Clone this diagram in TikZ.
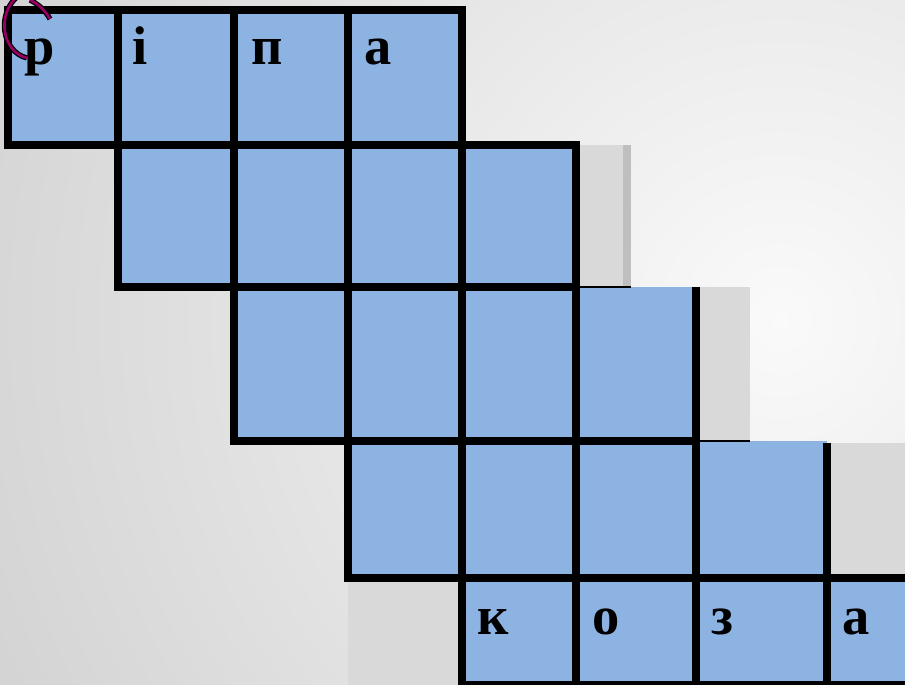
\documentclass[tikz,border=0pt]{standalone}
\usepackage{fontspec}
\setmainfont{Liberation Serif}

\definecolor{cellblue}{HTML}{8DB3E2}
\definecolor{shadegray}{HTML}{D9D9D9}
\definecolor{shadedark}{HTML}{BFBFBF}
\definecolor{markpink}{HTML}{990066}

\begin{document}
\begin{tikzpicture}[x=.02cm,y=-.02cm,every node/.style={font=\bfseries\fontsize{31}{37}\selectfont,inner sep=0pt,anchor=base west}]
\useasboundingbox (0,0) rectangle (905,685);
\begin{scope}
\clip (0,0) rectangle (905,685);
\shade[inner color=white!98!black,outer color=black!30] (780,320) circle (1600);
% grey cells beside the rows
\fill[shadegray] (576,145) rectangle (623,287);
\fill[shadedark] (623,145) rectangle (631,287);
\fill[shadegray] (696,287) rectangle (750,441);
\fill[shadegray] (827,443) rectangle (905,578);
\fill[shadegray] (348,578) rectangle (462,685);
% blue rows
\fill[cellblue] (8,10) rectangle (462,145);
\fill[cellblue] (118,145) rectangle (576,287);
\fill[cellblue] (234,287) rectangle (696,441);
\fill[cellblue] (348,441) rectangle (827,578);
\fill[cellblue] (462,578) rectangle (905,685);
% grid lines
\draw[line width=4.3pt,line cap=rect] (8,10) -- (462,10);
\draw[line width=4.3pt,line cap=rect] (8,145) -- (576,145);
\draw[line width=4.3pt,line cap=rect] (118,287) -- (576,287);
\draw[line width=4.3pt,line cap=rect] (234,441) -- (696,441);
\draw[line width=4.3pt,line cap=rect] (348,578) -- (905,578);
\draw[line width=4.3pt,line cap=rect] (462,685) -- (905,685);
\draw[line width=4.3pt,line cap=rect] (8,10) -- (8,145);
\draw[line width=4.3pt,line cap=rect] (118,10) -- (118,287);
\draw[line width=4.3pt,line cap=rect] (234,10) -- (234,441);
\draw[line width=4.3pt,line cap=rect] (348,10) -- (348,578);
\draw[line width=4.3pt,line cap=rect] (462,10) -- (462,685);
\draw[line width=4.3pt,line cap=rect] (576,145) -- (576,685);
\draw[line width=4.3pt,line cap=rect] (696,291) -- (696,685);
\draw[line width=4.3pt,line cap=rect] (827,447) -- (827,685);
\draw[line width=1.1pt] (576,287) -- (631,287);
\draw[line width=1.1pt] (696,441) -- (750,441);
% letters
\node (p1) at (24,65) {р};
\node (p2) at (132,65) {і};
\node (p3) at (251,65) {п};
\node (p4) at (364,65) {а};
\node (k1) at (477,634) {к};
\node (k2) at (592,634) {о};
\node (k3) at (711,634) {з};
\node (k4) at (842,634) {а};
% pink mark in the corner
\draw[line width=3pt] (27,58) .. controls (2,52) and (-4,14) .. (18,-4);
\draw[markpink,line width=1.5pt] (27,58) .. controls (2,52) and (-4,14) .. (18,-4);
\draw[line width=3pt] (30,0) .. controls (38,4) and (45,10) .. (50,19);
\draw[markpink,line width=1.5pt] (30,0) .. controls (38,4) and (45,10) .. (50,19);
\end{scope}
\end{tikzpicture}
\end{document}
